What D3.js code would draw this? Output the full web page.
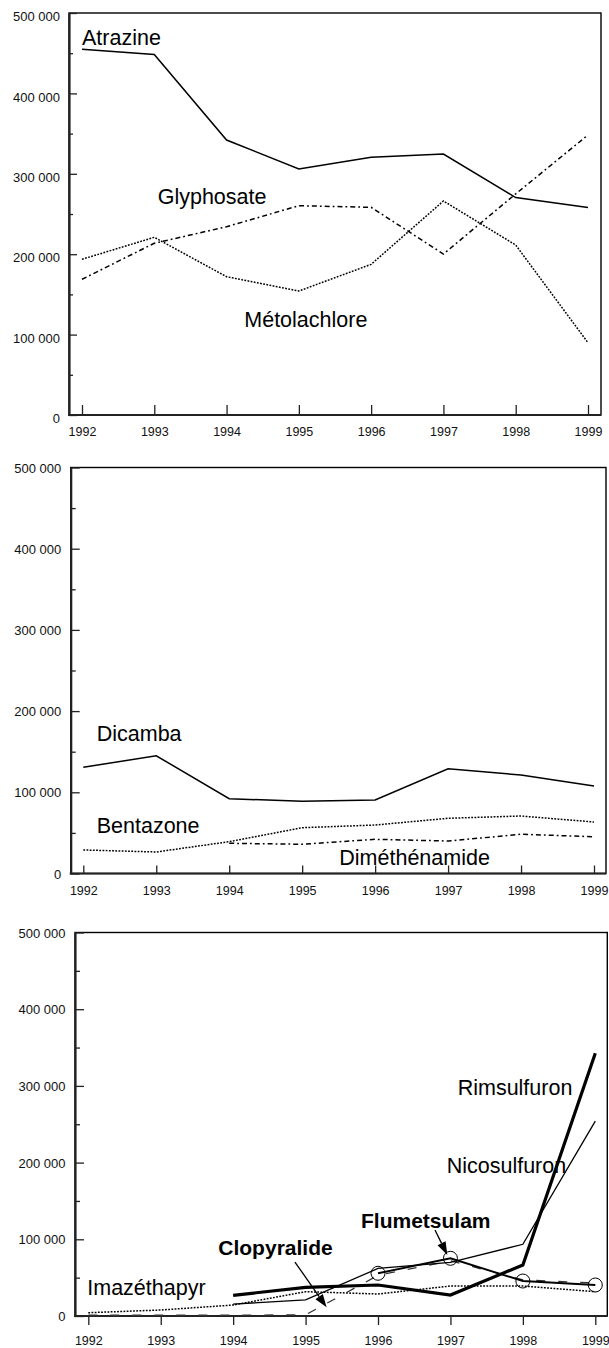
<!DOCTYPE html>
<html>
<head>
<meta charset="utf-8">
<script src="https://cdn.jsdelivr.net/npm/d3@7"></script>
<style>
  html, body { margin: 0; padding: 0; background: #fff; }
  svg { display: block; font-family: Arial, "Liberation Sans", Helvetica, sans-serif; }
</style>
</head>
<body>
<svg id="chart" width="609" height="1348"></svg>
<script>
// ---------- data ----------
const years = [1992, 1993, 1994, 1995, 1996, 1997, 1998, 1999];
const yTicks = [0, 100000, 200000, 300000, 400000, 500000];
const yMinorTicks = [50000, 150000, 250000, 350000, 450000];

// panel 1
const atrazine     = [455000, 448500, 342000, 306000, 320500, 324500, 270500, 258000];
const glyphosate   = [168800, 213600, 234200, 260300, 258300, 200200, 275000, 348300];
const metolachlore = [193700, 221000, 172000, 154200, 187400, 266200, 211400, 89900];

// panel 2
const dicamba       = [130800, 145000, 92100, 88900, 90500, 129000, 121300, 107800];
const bentazone     = [29000, 26500, 39200, 56400, 59700, 68000, 70800, 63400];
const dimethenamide = [null, null, 37200, 36000, 42100, 40000, 48300, 45300];

// panel 3
const imazethapyr  = [4300, 7800, 14300, 31700, 28700, 39100, 39100, 31700];
const clopyralide  = [1000, 1000, 1000, 1500, 53000, 72000, 47000, 43000];
const flumetsulam  = [null, null, null, null, 55700, 75200, 45600, 40400];
const rimsulfuron  = [null, null, 27000, 37400, 40400, 27400, 66500, 342500];
const nicosulfuron = [null, null, 15600, 20900, 62000, 70000, 93500, 254000];

// ---------- helpers ----------
const loc = d3.formatLocale({decimal: ",", thousands: " ", grouping: [3], currency: ["", ""]});
const fmt = loc.format(",");
const svg = d3.select("#chart");
svg.append("rect").attr("width", 609).attr("height", 1348).attr("fill", "#fff");

const STYLES = {
  solid:   {w: 1.5, dash: null},
  dotted:  {w: 1.5, dash: "1.8,1.4"},
  dashdot: {w: 1.5, dash: "5,3,1.8,3"},
  thick:   {w: 3.2, dash: null},
  thin:    {w: 1.3, dash: null},
  medium:  {w: 1.9, dash: null},
  longdash:{w: 1.3, dash: "9,13", color: "#333"}
};

function panel(cfg) {
  const x = d3.scaleLinear().domain([1992, 1999]).range([cfg.x0, cfg.x1]);
  const y = d3.scaleLinear().domain([0, 500000]).range([cfg.bottom, cfg.top]);
  const g = svg.append("g");

  // frame
  g.append("rect")
    .attr("x", cfg.left).attr("y", cfg.top)
    .attr("width", cfg.right - cfg.left).attr("height", cfg.bottom - cfg.top)
    .attr("fill", "none").attr("stroke", "#000").attr("stroke-width", 1.4);

  // y axis major
  const ya = g.append("g").attr("transform", `translate(${cfg.left},0)`)
    .call(d3.axisLeft(y).tickValues(yTicks).tickSize(-cfg.yMajor).tickSizeOuter(0)
      .tickPadding(cfg.yPad).tickFormat(fmt));
  ya.select(".domain").attr("stroke", "#222").attr("stroke-width", 2.2);
  ya.selectAll(".tick line").attr("stroke", "#222").attr("stroke-width", 1.3);
  ya.selectAll(".tick text").attr("font-size", 13).attr("fill", "#111")
    .attr("font-family", "Arial, 'Liberation Sans', sans-serif")
    .attr("transform", `translate(0,${cfg.yLabelShift})`);
  // y axis minor
  const ym = g.append("g").attr("transform", `translate(${cfg.left},0)`)
    .call(d3.axisLeft(y).tickValues(yMinorTicks).tickSize(-cfg.yMinor).tickSizeOuter(0).tickFormat(""));
  ym.select(".domain").remove();
  ym.selectAll(".tick line").attr("stroke", "#222").attr("stroke-width", 1.3);

  // x axis
  const xa = g.append("g").attr("transform", `translate(0,${cfg.bottom})`)
    .call(d3.axisBottom(x).tickValues(years).tickSize(cfg.xTick).tickSizeOuter(0)
      .tickPadding(cfg.xPad).tickFormat(d3.format("d")));
  xa.select(".domain").remove();
  xa.selectAll(".tick line").attr("stroke", "#222").attr("stroke-width", 1.3);
  xa.selectAll(".tick text").attr("font-size", 12.5).attr("fill", "#111")
    .attr("font-family", "Arial, 'Liberation Sans', sans-serif");
  if (cfg.xTick < 0) {
    xa.selectAll(".tick text").attr("y", cfg.xPad);
  }
  g.append("line")
    .attr("x1", cfg.left - 1).attr("x2", cfg.right)
    .attr("y1", cfg.bottom).attr("y2", cfg.bottom)
    .attr("stroke", "#222").attr("stroke-width", 2.2);

  // series
  const line = d3.line().defined(d => d.v != null).x(d => x(d.yr)).y(d => y(d.v));
  cfg.series.forEach(s => {
    const st = STYLES[s.style];
    const pts = years.map((yr, i) => ({yr, v: s.values[i]}));
    g.append("path")
      .datum(pts)
      .attr("d", line)
      .attr("fill", "none")
      .attr("stroke", st.color || "#000")
      .attr("stroke-width", st.w)
      .attr("stroke-dasharray", st.dash)
      .attr("stroke-linejoin", "miter");
    if (s.markers) {
      g.selectAll(null).data(pts.filter(d => d.v != null)).enter()
        .append("circle")
        .attr("cx", d => x(d.yr)).attr("cy", d => y(d.v)).attr("r", 7)
        .attr("fill", "none").attr("stroke", "#000").attr("stroke-width", 1);
    }
  });

  // labels
  cfg.labels.forEach(l => {
    g.append("text")
      .attr("x", x(l.yr)).attr("y", y(l.v))
      .attr("font-size", l.bold ? 21 : 21.5)
      .attr("font-weight", l.bold ? "bold" : "normal")
      .attr("fill", "#000")
      .text(l.text);
  });

  // arrows
  (cfg.arrows || []).forEach(a => {
    const x1 = x(a.from[0]), y1 = y(a.from[1]), x2 = x(a.to[0]), y2 = y(a.to[1]);
    const ang = Math.atan2(y2 - y1, x2 - x1);
    const L = 13, W = 4.5;
    const bx = x2 - L * Math.cos(ang), by = y2 - L * Math.sin(ang);
    g.append("line").attr("x1", x1).attr("y1", y1).attr("x2", bx).attr("y2", by)
      .attr("stroke", "#000").attr("stroke-width", 1.3);
    g.append("path")
      .attr("d", `M${x2},${y2} L${bx + W * Math.sin(ang)},${by - W * Math.cos(ang)} L${bx - W * Math.sin(ang)},${by + W * Math.cos(ang)} Z`)
      .attr("fill", "#000");
  });
}

panel({
  left: 69, right: 601, top: 13, bottom: 415, x0: 82, x1: 588,
  yMajor: 8, yMinor: 4, yPad: 9, yLabelShift: 3.5, xTick: -10, xPad: 12,
  series: [
    {values: atrazine, style: "solid"},
    {values: glyphosate, style: "dashdot"},
    {values: metolachlore, style: "dotted"}
  ],
  labels: [
    {text: "Atrazine", yr: 1992, v: 460200},
    {text: "Glyphosate", yr: 1993.047, v: 262400},
    {text: "Métolachlore", yr: 1994.245, v: 109100}
  ]
});

panel({
  left: 70.7, right: 606, top: 467.5, bottom: 873.5, x0: 83.3, x1: 594,
  yMajor: 9, yMinor: 5, yPad: 9.5, yLabelShift: 0.5, xTick: -8, xPad: 13,
  series: [
    {values: dicamba, style: "solid"},
    {values: bentazone, style: "dotted"},
    {values: dimethenamide, style: "dashdot"}
  ],
  labels: [
    {text: "Dicamba", yr: 1992.184, v: 163200},
    {text: "Bentazone", yr: 1992.184, v: 50200},
    {text: "Diméthénamide", yr: 1995.509, v: 10500}
  ]
});

panel({
  left: 75, right: 607.3, top: 932.5, bottom: 1316, x0: 88.3, x1: 595.3,
  yMajor: 9, yMinor: 5, yPad: 9.5, yLabelShift: 0.5, xTick: 9, xPad: 11.5,
  series: [
    {values: imazethapyr, style: "dotted"},
    {values: clopyralide, style: "longdash"},
    {values: nicosulfuron, style: "thin"},
    {values: flumetsulam, style: "medium", markers: true},
    {values: rimsulfuron, style: "thick"}
  ],
  labels: [
    {text: "Imazéthapyr", yr: 1991.986, v: 27400},
    {text: "Clopyralide", yr: 1993.795, v: 79500, bold: true},
    {text: "Flumetsulam", yr: 1995.765, v: 114300, bold: true},
    {text: "Rimsulfuron", yr: 1997.1, v: 288100},
    {text: "Nicosulfuron", yr: 1996.948, v: 186000}
  ],
  arrows: [
    {from: [1994.853, 70400], to: [1995.29, 11300]},
    {from: [1996.787, 112100], to: [1996.957, 79500]}
  ]
});
</script>
</body>
</html>
